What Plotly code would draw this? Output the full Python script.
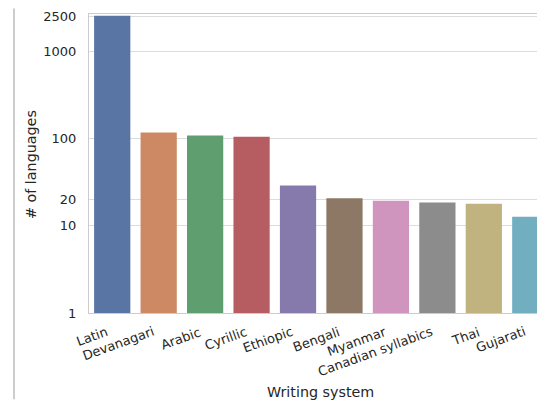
import colorsys
import plotly.graph_objects as go

categories = ["Latin", "Devanagari", "Arabic", "Cyrillic", "Ethiopic", "Bengali",
              "Myanmar", "Canadian syllabics", "Thai", "Gujarati"]
languages = [2550, 117, 108, 105, 29, 20.7, 19.3, 18.5, 17.9, 12.7]
tick_vals = [1, 10, 20, 100, 1000, 2500]
tick_text = ["1", "10", "20", "100", "1000", "2500"]

deep = ["#4C72B0", "#DD8452", "#55A868", "#C44E52", "#8172B3",
        "#937860", "#DA8BC3", "#8C8C8C", "#CCB974", "#64B5CD"]


def desat(hexc, prop=0.75):
    r, g, b = (int(hexc[i:i + 2], 16) / 255 for i in (1, 3, 5))
    h, l, s = colorsys.rgb_to_hls(r, g, b)
    r, g, b = colorsys.hls_to_rgb(h, l, s * prop)
    return "#%02x%02x%02x" % tuple(round(v * 255) for v in (r, g, b))


colors = [desat(c) for c in deep]

# page has an 8px body margin; work in page pixel coordinates and convert
OFF = 8
W, H = 545 - OFF, 400 - OFF
PL, PR, PT, PB = 89, 545, 13.5, 313.5   # plot area in page pixels
L = PL - OFF
T = PT - OFF
B = H - (PB - OFF)


def px(xp):
    return (xp - PL) / (PR - PL)


def py(yp):
    return (PB - yp) / (PB - PT)


FONT = "DejaVu Sans"
TXT = "#262626"

fig = go.Figure(go.Bar(x=categories, y=languages, marker=dict(color=colors, line=dict(width=0)),
                       width=0.78))

annotations = []
for c in categories:
    annotations.append(dict(x=c, xref="x", y=py(322), yref="paper", text=c,
                            showarrow=False, textangle=-20, xanchor="right", yanchor="top",
                            font=dict(family=FONT, size=13, color=TXT)))
annotations.append(dict(x=px(320), xref="paper", y=py(392.5), yref="paper",
                        text="Writing system", showarrow=False, xanchor="center", yanchor="middle",
                        font=dict(family=FONT, size=14.3, color=TXT)))
annotations.append(dict(x=px(31), xref="paper", y=py(165), yref="paper",
                        text="# of languages", showarrow=False, textangle=-90,
                        xanchor="center", yanchor="middle",
                        font=dict(family=FONT, size=14.3, color=TXT)))

shapes = [
    dict(type="line", xref="paper", yref="paper",
         x0=px(14), x1=px(14), y0=py(OFF), y1=py(400),
         line=dict(color="#bdbdbd", width=1.5)),
]

fig.update_layout(
    width=W, height=H,
    margin=dict(l=L, r=0, t=T, b=B, pad=0),
    paper_bgcolor="white", plot_bgcolor="white",
    showlegend=False,
    font=dict(family=FONT, size=13, color=TXT),
    annotations=annotations,
    shapes=shapes,
    xaxis=dict(range=[-0.5, 9.317], showticklabels=False, showgrid=False,
               showline=True, mirror=True, linecolor="#cccccc", linewidth=1.25,
               ticks="", zeroline=False),
    yaxis=dict(type="log", range=[0, 3.427], tickvals=tick_vals, ticktext=tick_text,
               showgrid=True, gridcolor="#dcdcdc", gridwidth=1,
               showline=True, mirror=False, linecolor="#cccccc", linewidth=1.25,
               ticks="", ticklabelstandoff=9, zeroline=False,
               tickfont=dict(family=FONT, size=13, color=TXT)),
)

fig.write_html("out.html")
